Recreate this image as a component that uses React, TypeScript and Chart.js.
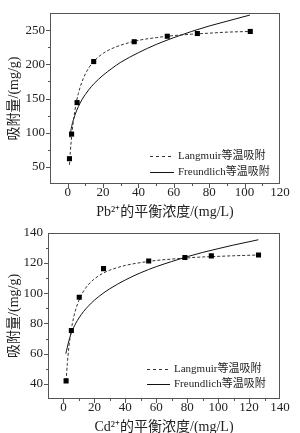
import React, { useEffect, useRef } from "react";
import { Chart, registerables } from "chart.js";

Chart.register(...registerables);

// ---------- Pb2+ chart data ----------
const pbPointsX = [1, 2.2, 5.3, 14.7, 37.6, 56.3, 73.3, 103.2];
const pbPointsY = [62, 98, 144, 204, 233, 241, 245, 248];
const pbLangX = [1, 1.5, 2, 3, 4, 5, 6, 8, 10, 12, 15, 20, 25, 30, 40, 50, 60, 70, 80, 90, 103];
const pbLangY = [53, 72, 88, 113, 131, 146, 157, 174, 186, 195, 205, 216, 223, 228, 235, 239, 242, 244, 245.5, 247, 248];
const pbFreX = [1.3, 2, 3, 4, 5, 6, 8, 10, 12, 15, 20, 25, 30, 40, 50, 60, 70, 80, 90, 103];
const pbFreY = [93, 106, 117, 125, 132, 138, 148, 156, 163, 172, 184, 194, 203, 217, 229, 239, 248, 256, 263, 272];
const pbXTicks = [0, 20, 40, 60, 80, 100, 120];
const pbYTicks = [50, 100, 150, 200, 250];
const pbXTitle = "Pb²⁺的平衡浓度/(mg/L)";

// ---------- Cd2+ chart data ----------
const cdPointsX = [1.7, 5.1, 10.2, 25.9, 55.1, 78.5, 95.6, 126.1];
const cdPointsY = [42, 75.3, 97.3, 116.3, 121.3, 123.7, 124.7, 125.3];
const cdLangX = [1.7, 2.5, 3.5, 5, 6.5, 8, 10, 13, 16, 20, 25, 30, 40, 50, 60, 70, 80, 90, 100, 110, 126];
const cdLangY = [42, 53.5, 64.3, 75.6, 83.6, 89.5, 95.3, 101.4, 105.6, 109.5, 112.9, 115.3, 118.4, 120.3, 121.7, 122.6, 123.4, 124, 124.4, 124.8, 125.3];
const cdFreX = [1.5, 2, 3, 4, 5, 6.5, 8, 10, 13, 16, 20, 25, 30, 40, 50, 60, 70, 80, 90, 100, 110, 126];
const cdFreY = [60, 62, 66.5, 70.3, 73.3, 77.1, 80.2, 83.6, 87.9, 91.4, 95.4, 99.5, 103, 108.8, 113.6, 117.6, 121, 124.2, 127, 129.5, 131.9, 135.4];
const cdXTicks = [0, 20, 40, 60, 80, 100, 120, 140];
const cdYTicks = [40, 60, 80, 100, 120, 140];
const cdXTitle = "Cd²⁺的平衡浓度/(mg/L)";

const yTitle = "吸附量/(mg/g)";
const legendLabels = ["Langmuir等温吸附", "Freundlich等温吸附"];

const SERIF = '"Liberation Serif", "Times New Roman", "Noto Sans CJK SC", serif';
const TEXT = "#222";
const FRAME = "#555";

const zip = (xs: number[], ys: number[]) => xs.map((x, i) => ({ x, y: ys[i] }));

const frameTicksPlugin = {
  id: "frameTicks",
  afterDraw(chart: any, _args: any, opts: any) {
    const { ctx, chartArea: a, scales } = chart;
    ctx.save();
    ctx.strokeStyle = FRAME;
    ctx.lineWidth = 1;
    ctx.strokeRect(Math.round(a.left) + 0.5, Math.round(a.top) + 0.5, Math.round(a.right - a.left) - 1, Math.round(a.bottom - a.top) - 1);

    const drawAxis = (scale: any, horizontal: boolean) => {
      const vals = scale.ticks.map((t: any) => t.value);
      const step = vals[1] - vals[0];
      const line = (v: number, len: number) => {
        const p = Math.round(scale.getPixelForValue(v)) + 0.5;
        ctx.beginPath();
        if (horizontal) {
          if (p < a.left + 1 || p > a.right - 1) return;
          const yb = Math.round(a.bottom);
          ctx.moveTo(p, yb);
          ctx.lineTo(p, yb + len);
        } else {
          if (p < a.top + 1 || p > a.bottom - 1) return;
          const xl = Math.round(a.left);
          ctx.moveTo(xl, p);
          ctx.lineTo(xl - len, p);
        }
        ctx.stroke();
      };
      vals.forEach((v: number) => line(v, 4));
      for (let v = vals[0] - step / 2; v <= vals[vals.length - 1] + step / 2 + 1e-9; v += step) line(v, 2);
    };
    drawAxis(scales.x, true);
    drawAxis(scales.y, false);

    // legend
    if (opts && opts.x !== undefined) {
      const ds = chart.data.datasets.filter((d: any) => d.label);
      ds.forEach((d: any, i: number) => {
        const y = Math.round(opts.y + i * opts.rowGap) + 0.5;
        ctx.save();
        ctx.strokeStyle = d.borderColor;
        ctx.lineWidth = 1;
        ctx.setLineDash(d.borderDash && d.borderDash.length ? [3, 3] : []);
        ctx.beginPath();
        ctx.moveTo(opts.x, y);
        ctx.lineTo(opts.x + opts.sample, y);
        ctx.stroke();
        ctx.restore();
        ctx.fillStyle = TEXT;
        ctx.font = `11px ${SERIF}`;
        ctx.textBaseline = "middle";
        ctx.textAlign = "left";
        ctx.fillText(d.label, opts.x + opts.sample + 4, y);
      });
    }
    ctx.restore();
  },
};

type Spec = {
  width: number;
  height: number;
  pointsX: number[];
  pointsY: number[];
  langX: number[];
  langY: number[];
  freX: number[];
  freY: number[];
  xMin: number;
  xMax: number;
  yMin: number;
  yMax: number;
  xTicks: number[];
  yTicks: number[];
  xTitle: string;
  yAxisW: number;
  xAxisH: number;
  padTop: number;
  padRight: number;
  xTitlePadBottom: number;
  legend: { x: number; y: number; rowGap: number; sample: number };
};

function IsothermChart({ spec }: { spec: Spec }) {
  const ref = useRef<HTMLCanvasElement | null>(null);
  useEffect(() => {
    if (!ref.current) return;
    const s = spec;
    const chart = new Chart(ref.current, {
      type: "scatter",
      data: {
        datasets: [
          {
            label: "",
            data: zip(s.pointsX, s.pointsY),
            pointStyle: "rect",
            pointRadius: 3.6,
            backgroundColor: "#000",
            borderColor: "#000",
            borderWidth: 0,
            showLine: false,
          },
          {
            label: legendLabels[0],
            data: zip(s.langX, s.langY),
            showLine: true,
            borderColor: "#333",
            borderWidth: 1,
            borderDash: [3, 2],
            pointRadius: 0,
            cubicInterpolationMode: "monotone",
          },
          {
            label: legendLabels[1],
            data: zip(s.freX, s.freY),
            showLine: true,
            borderColor: "#111",
            borderWidth: 1,
            pointRadius: 0,
            cubicInterpolationMode: "monotone",
          },
        ] as any,
      },
      options: {
        animation: false,
        responsive: false,
        devicePixelRatio: 1,
        layout: { padding: { left: 0, right: s.padRight, top: s.padTop, bottom: 0 } },
        plugins: {
          legend: { display: false },
          tooltip: { enabled: false },
          frameTicks: s.legend,
        } as any,
        scales: {
          x: {
            type: "linear",
            min: s.xMin,
            max: s.xMax,
            afterBuildTicks: (sc: any) => {
              sc.ticks = s.xTicks.map((v) => ({ value: v }));
            },
            afterFit: (sc: any) => {
              sc.height = s.xAxisH;
            },
            grid: { display: false, drawTicks: false, tickLength: 0 },
            border: { display: false },
            ticks: {
              autoSkip: false,
              maxRotation: 0,
              padding: 1,
              color: TEXT,
              font: { family: SERIF, size: 13, lineHeight: 1.2 },
            },
            title: {
              display: true,
              text: s.xTitle,
              color: TEXT,
              font: { family: SERIF, size: 14, lineHeight: 1 },
              padding: { top: 0, bottom: s.xTitlePadBottom },
            },
          },
          y: {
            type: "linear",
            min: s.yMin,
            max: s.yMax,
            afterBuildTicks: (sc: any) => {
              sc.ticks = s.yTicks.map((v) => ({ value: v }));
            },
            afterFit: (sc: any) => {
              sc.width = s.yAxisW;
            },
            grid: { display: false, drawTicks: false, tickLength: 0 },
            border: { display: false },
            ticks: {
              autoSkip: false,
              padding: 5,
              color: TEXT,
              font: { family: SERIF, size: 13, lineHeight: 1.2 },
            },
            title: {
              display: true,
              text: yTitle,
              color: TEXT,
              font: { family: SERIF, size: 14, lineHeight: 1 },
              padding: { top: 7, bottom: 0 },
            },
          },
        },
      } as any,
      plugins: [frameTicksPlugin as any],
    });
    return () => chart.destroy();
  }, [spec]);
  return <canvas ref={ref} width={spec.width} height={spec.height} style={{ display: "block", width: spec.width, height: spec.height }} />;
}

const pbSpec: Spec = {
  width: 300,
  height: 220,
  pointsX: pbPointsX,
  pointsY: pbPointsY,
  langX: pbLangX,
  langY: pbLangY,
  freX: pbFreX,
  freY: pbFreY,
  xMin: -10,
  xMax: 120,
  yMin: 25,
  yMax: 275,
  xTicks: pbXTicks,
  yTicks: pbYTicks,
  xTitle: pbXTitle,
  yAxisW: 50,
  xAxisH: 36,
  padTop: 13,
  padRight: 20,
  xTitlePadBottom: 1,
  legend: { x: 150, y: 156, rowGap: 16, sample: 24 },
};

const cdSpec: Spec = {
  width: 300,
  height: 213,
  pointsX: cdPointsX,
  pointsY: cdPointsY,
  langX: cdLangX,
  langY: cdLangY,
  freX: cdFreX,
  freY: cdFreY,
  xMin: -10,
  xMax: 140,
  yMin: 30,
  yMax: 140,
  xTicks: cdXTicks,
  yTicks: cdYTicks,
  xTitle: cdXTitle,
  yAxisW: 48,
  xAxisH: 34,
  padTop: 7,
  padRight: 20,
  xTitlePadBottom: -1,
  legend: { x: 147, y: 149, rowGap: 15, sample: 23 },
};

export default function App() {
  return (
    <div style={{ position: "absolute", left: 0, top: 0, width: 300, height: 433, background: "#fff" }}>
      <div style={{ position: "absolute", left: 0, top: 0 }}>
        <IsothermChart spec={pbSpec} />
      </div>
      <div style={{ position: "absolute", left: 0, top: 220 }}>
        <IsothermChart spec={cdSpec} />
      </div>
    </div>
  );
}
